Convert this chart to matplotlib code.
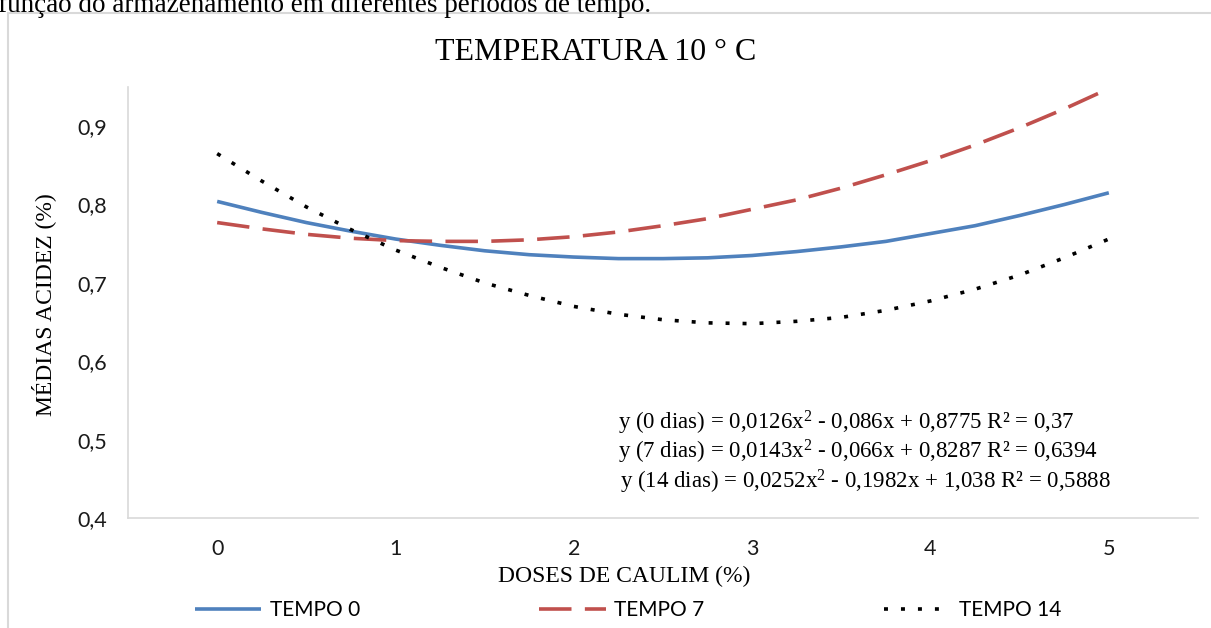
import matplotlib
matplotlib.use("Agg")
import matplotlib.pyplot as plt
from matplotlib.patches import Rectangle

# doses de caulim (%) - pontos lidos ao longo das curvas de tendencia
doses = [0, 0.25, 0.5, 0.75, 1, 1.25, 1.5, 1.75, 2, 2.25, 2.5,
         2.75, 3, 3.25, 3.5, 3.75, 4, 4.25, 4.5, 4.75, 5]
tempo0 = [0.804, 0.790, 0.777, 0.766, 0.756, 0.748, 0.741, 0.736, 0.733, 0.731, 0.731,
          0.732, 0.735, 0.740, 0.746, 0.753, 0.763, 0.773, 0.786, 0.800, 0.815]
tempo7 = [0.777, 0.769, 0.762, 0.757, 0.754, 0.753, 0.753, 0.755, 0.759, 0.765, 0.773,
          0.782, 0.794, 0.806, 0.821, 0.838, 0.856, 0.876, 0.898, 0.922, 0.948]
tempo14 = [0.865, 0.830, 0.797, 0.768, 0.742, 0.720, 0.700, 0.684, 0.670, 0.660, 0.653,
           0.649, 0.648, 0.651, 0.656, 0.665, 0.677, 0.692, 0.710, 0.732, 0.756]

x_ticks = [0, 1, 2, 3, 4, 5]
y_ticks = [0.4, 0.5, 0.6, 0.7, 0.8, 0.9]
y_ticklabels = ["0,4", "0,5", "0,6", "0,7", "0,8", "0,9"]
labels = ["TEMPO 0", "TEMPO 7", "TEMPO 14"]
SUP2 = r"$\mathregular{^2}$"
equations = [
    "y (0 dias) = 0,0126x" + SUP2 + " - 0,086x + 0,8775 R² = 0,37",
    "y (7 dias) = 0,0143x" + SUP2 + " - 0,066x + 0,8287 R² = 0,6394",
    "y (14 dias) = 0,0252x" + SUP2 + " - 0,1982x + 1,038 R² = 0,5888",
]

W, H = 1211, 628
SERIF = "Liberation Serif"
SANS = "Lato"
GRAY = "#d9d9d9"

plt.rcParams["mathtext.fontset"] = "custom"
plt.rcParams["mathtext.rm"] = SERIF

fig = plt.figure(figsize=(W / 100, H / 100), dpi=100)


def fx(px):
    return px / W


def fy(py):
    return 1 - py / H


# borda do grafico (cortada a direita e em baixo)
fig.patches.append(Rectangle((fx(8), fy(H + 20)), fx(1300), fy(13) - fy(H + 20),
                             transform=fig.transFigure, fill=False,
                             edgecolor=GRAY, linewidth=1.5))

# legenda da figura, cortada no topo
fig.text(fx(-2), fy(12), "função do armazenamento em diferentes períodos de tempo.",
         family=SERIF, fontsize=19.5, va="baseline", ha="left")

ax = fig.add_axes([fx(128), fy(518), fx(1198) - fx(128), fy(87) - fy(518)])

lw = 2.6
ax.plot(doses, tempo0, color="#4f81bd", lw=lw, label=labels[0],
        solid_capstyle="butt")
ax.plot(doses, tempo7, color="#c0504d", lw=lw, label=labels[1],
        dashes=(9.0, 3.7), dash_capstyle="butt")
ax.plot(doses, tempo14, color="black", lw=lw, label=labels[2],
        dashes=(1.1, 3.6), dash_capstyle="butt")

ax.set_xlim(-0.5, 5.5)
ax.set_ylim(0.4, 0.95)
ax.set_xticks(x_ticks)
ax.set_xticklabels([str(v) for v in x_ticks])
ax.set_yticks(y_ticks)
ax.set_yticklabels(y_ticklabels)
ax.tick_params(length=0, labelsize=15.5, colors="#1a1a1a")
ax.tick_params(axis="x", pad=15)
ax.tick_params(axis="y", pad=15)
for t in ax.get_xticklabels() + ax.get_yticklabels():
    t.set_family(SANS)

for s in ("top", "right"):
    ax.spines[s].set_visible(False)
for s in ("left", "bottom"):
    ax.spines[s].set_color(GRAY)
    ax.spines[s].set_linewidth(1.2)

fig.text(fx(596), fy(53), "TEMPERATURA 10 ° C", family=SERIF, fontsize=23,
         ha="center", va="center")
fig.text(fx(44), fy(305), "MÉDIAS ACIDEZ (%)", family=SERIF, fontsize=17,
         rotation=90, ha="center", va="center")
fig.text(fx(624), fy(576), "DOSES DE CAULIM (%)", family=SERIF, fontsize=17,
         ha="center", va="center")

eq_pos = [(618, 423), (618, 452), (620, 482)]
for (px, py), txt in zip(eq_pos, equations):
    fig.text(fx(px), fy(py), txt, family=SERIF, fontsize=16.5,
             ha="left", va="center")

leg = fig.legend(loc="center left", bbox_to_anchor=(fx(176), fy(610)), ncol=3,
                 frameon=False, prop={"family": SANS, "size": 15},
                 handlelength=3.2, handletextpad=0.4, columnspacing=8.6)

plt.savefig("out.png", dpi=100)
